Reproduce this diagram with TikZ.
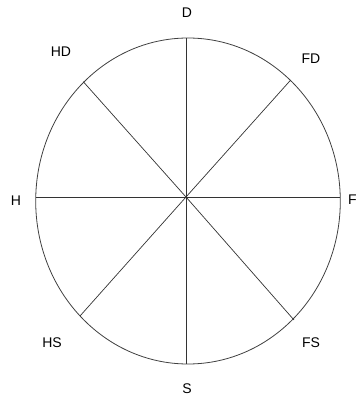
\documentclass[tikz,border=0pt]{standalone}
\usepackage{fontspec}
\setmainfont{Liberation Sans}
\usetikzlibrary{positioning, calc}

\begin{document}
\begin{tikzpicture}[
    x=1pt, y=-1pt,
    lbl/.style={inner sep=0pt, font=\fontsize{14}{14}\selectfont},
    rim/.style={draw=black!75, line width=0.8pt},
    spoke/.style={draw=black!80, line width=0.7pt}
]
\useasboundingbox (0,0) rectangle (358,399);
\coordinate (hub) at (186,197);
\coordinate (ring) at (188,201);

% outer ring
\draw[rim] (ring) ellipse [x radius=152.3, y radius=163];

% spoke ends on the ring
\coordinate (eD)  at (186,38);
\coordinate (eS)  at (186,364);
\coordinate (eH)  at (35.7,197);
\coordinate (eF)  at (340.3,197);
\coordinate (eHD) at (83.3,81.7);
\coordinate (eFD) at (290.7,80);
\coordinate (eHS) at (80,316);
\coordinate (eFS) at (294,320);

\foreach \e in {eD, eS, eH, eF, eHD, eFD, eHS, eFS}
    \draw[spoke] (hub) -- (\e);

\node[lbl] (D)  at (187,13)  {D};
\node[lbl] (S)  at (187,389) {S};
\node[lbl] (H)  at (16,201)  {H};
\node[lbl] (F)  at (352.5,200) {F};
\node[lbl] (HD) at (61,52)   {HD};
\node[lbl] (FD) at (311,59)  {FD};
\node[lbl] (HS) at (52,343)  {HS};
\node[lbl] (FS) at (311,343) {FS};
\end{tikzpicture}
\end{document}
